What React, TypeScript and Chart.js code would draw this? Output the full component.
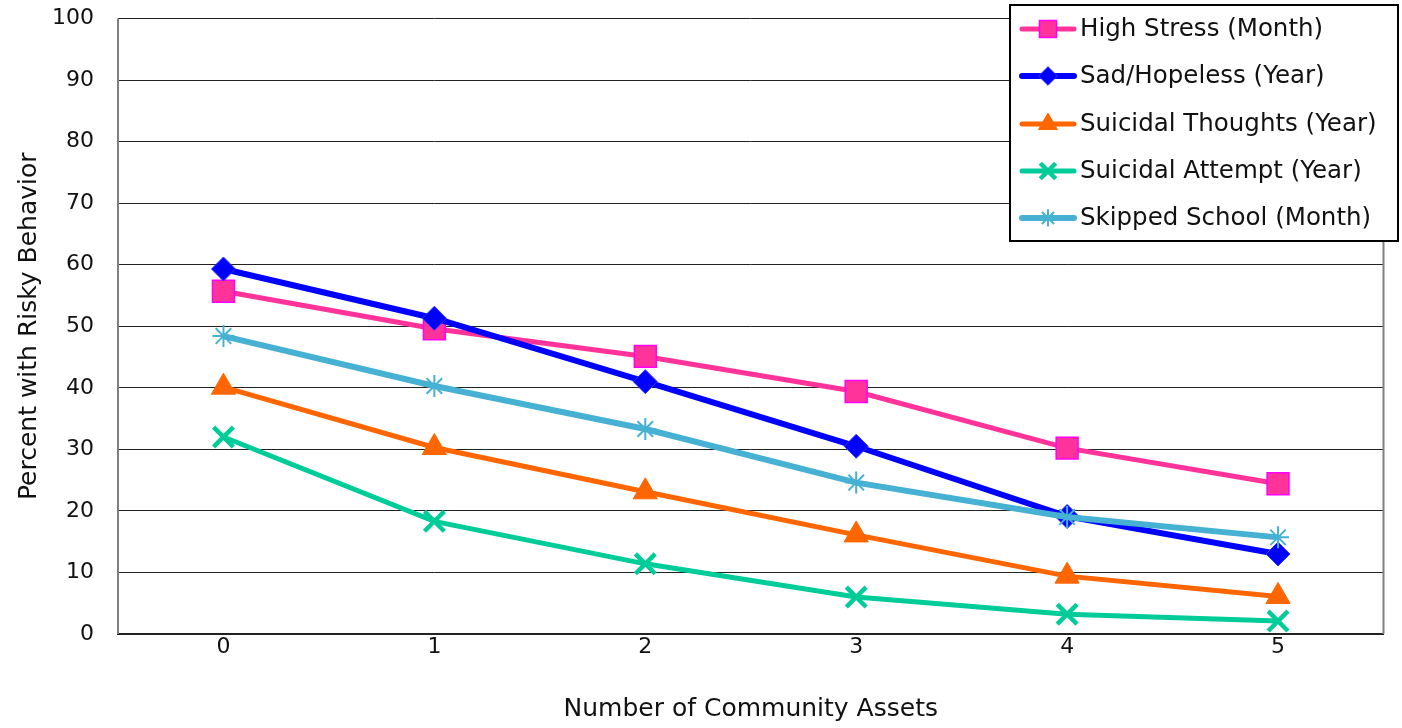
import React, { useEffect, useRef } from "react";
import { Chart, registerables } from "chart.js";
import { drawPoint } from "chart.js/helpers";

Chart.register(...registerables);

const categories = ["0", "1", "2", "3", "4", "5"];
const highStress = [55.7, 49.6, 45.1, 39.4, 30.2, 24.4];
const sadHopeless = [59.3, 51.3, 41.0, 30.5, 19.1, 13.0];
const suicidalThoughts = [40.1, 30.3, 23.1, 16.1, 9.4, 6.1];
const suicidalAttempt = [32.0, 18.3, 11.4, 6.0, 3.2, 2.1];
const skippedSchool = [48.4, 40.3, 33.3, 24.6, 19.0, 15.7];

const seriesNames = [
  "High Stress (Month)",
  "Sad/Hopeless (Year)",
  "Suicidal Thoughts (Year)",
  "Suicidal Attempt (Year)",
  "Skipped School (Month)",
];

const FONT = "'DejaVu Sans', sans-serif";

const legendPlugin = {
  id: "boxLegend",
  afterDraw(chart: any) {
    const ctx = chart.ctx;
    const x0 = 1010, y0 = 5, w = 388, h = 236;
    ctx.save();
    ctx.fillStyle = "#ffffff";
    ctx.fillRect(x0, y0, w, h);
    ctx.strokeStyle = "#000000";
    ctx.lineWidth = 2;
    ctx.strokeRect(x0, y0, w, h);
    const rows = [29, 76, 124, 171, 218];
    chart.data.datasets.forEach((ds: any, i: number) => {
      const y = rows[i];
      ctx.strokeStyle = ds.borderColor;
      ctx.lineWidth = ds.borderWidth;
      ctx.lineCap = "round";
      ctx.beginPath();
      ctx.moveTo(1022, y);
      ctx.lineTo(1074, y);
      ctx.stroke();
      ctx.fillStyle = ds.pointBackgroundColor;
      ctx.strokeStyle = ds.pointBorderColor;
      ctx.lineWidth = ds.pointBorderWidth;
      ctx.lineCap = "butt";
      drawPoint(
        ctx,
        {
          pointStyle: ds.pointStyle,
          rotation: 0,
          borderWidth: ds.pointBorderWidth,
          radius: ds.pointRadius * 0.78,
        } as any,
        1048,
        y
      );
      ctx.fillStyle = "#111111";
      ctx.font = `24.5px ${FONT}`;
      ctx.textAlign = "left";
      ctx.textBaseline = "middle";
      ctx.fillText(ds.label, 1080, y + 1);
    });
    ctx.restore();
  },
};

const borderPlugin = {
  id: "plotBorder",
  beforeDatasetsDraw(chart: any) {
    const { left, right, top, bottom } = chart.chartArea;
    const ctx = chart.ctx;
    ctx.save();
    ctx.strokeStyle = "#808080";
    ctx.lineWidth = 2;
    ctx.beginPath();
    ctx.moveTo(left, top);
    ctx.lineTo(left, bottom);
    ctx.moveTo(right, top);
    ctx.lineTo(right, bottom);
    ctx.stroke();
    ctx.restore();
  },
};

export default function App() {
  const ref = useRef<HTMLCanvasElement>(null);
  useEffect(() => {
    if (!ref.current) return;
    const mk = (
      label: string,
      data: number[],
      color: string,
      style: string,
      radius: number,
      bg: string,
      border: string,
      pbw: number,
      lw: number,
      order: number
    ) => ({
      label,
      data,
      borderColor: color,
      backgroundColor: color,
      borderWidth: lw,
      pointStyle: style,
      pointRadius: radius,
      pointBackgroundColor: bg,
      pointBorderColor: border,
      pointBorderWidth: pbw,
      tension: 0,
      order,
    });
    const chart = new Chart(ref.current, {
      type: "line",
      data: {
        labels: categories,
        datasets: [
          mk(seriesNames[0], highStress, "#FF3399", "rect", 15.5, "#FF3399", "#FF00FF", 1.5, 5, 5),
          mk(seriesNames[1], sadHopeless, "#0000FF", "rectRot", 12, "#0000FF", "#3333FF", 1, 6, 4),
          mk(seriesNames[2], suicidalThoughts, "#FF6600", "triangle", 14, "#FF6600", "#FF6600", 1, 5, 3),
          mk(seriesNames[3], suicidalAttempt, "#00CC99", "crossRot", 14, "#00CC99", "#00CC99", 4.5, 5, 2),
          mk(seriesNames[4], skippedSchool, "#46B1D3", "star", 11, "#46B1D3", "#46B1D3", 2, 6, 1),
        ] as any,
      },
      options: {
        responsive: false,
        animation: false,
        layout: { padding: { top: 0, right: 16, left: 0, bottom: 0 } },
        plugins: {
          legend: { display: false },
          tooltip: { enabled: false },
        },
        scales: {
          x: {
            offset: true,
            grid: { display: false, drawTicks: false },
            border: { display: true, color: "#222222", width: 2 },
            ticks: {
              color: "#111111",
              font: { family: FONT, size: 22 },
              padding: 0,
            },
            title: {
              display: true,
              text: "Number of Community Assets",
              color: "#111111",
              font: { family: FONT, size: 25 },
              padding: { top: 0, bottom: 4 },
            },
            afterFit(scale: any) {
              scale.height = 94;
            },
          },
          y: {
            min: 0,
            max: 100,
            ticks: {
              stepSize: 10,
              color: "#111111",
              font: { family: FONT, size: 22 },
              padding: 24,
            },
            grid: { color: "#222222", lineWidth: 1, drawTicks: false },
            border: { display: false },
            title: {
              display: true,
              text: "Percent with Risky Behavior",
              color: "#111111",
              font: { family: FONT, size: 25 },
              padding: { top: 14, bottom: 0 },
            },
            afterFit(scale: any) {
              scale.width = 118;
              scale.paddingTop = 18;
              scale.paddingBottom = 0;
            },
          },
        },
      },
      plugins: [borderPlugin, legendPlugin],
    } as any);
    return () => chart.destroy();
  }, []);
  return (
    <div style={{ position: "absolute", left: 0, top: 0, width: 1402, height: 728, background: "#fff" }}>
      <canvas ref={ref} width={1402} height={728} style={{ display: "block" }} />
    </div>
  );
}
